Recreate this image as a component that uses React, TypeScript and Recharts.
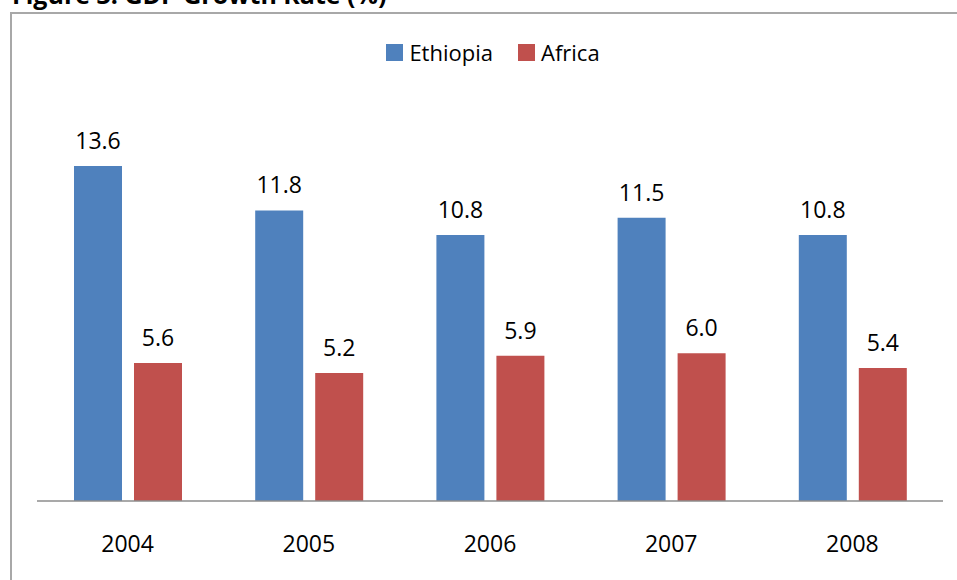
import React from "react";
import { BarChart, Bar, XAxis, YAxis, LabelList } from "recharts";

const years = ["2004", "2005", "2006", "2007", "2008"];
const ethiopia = [13.6, 11.8, 10.8, 11.5, 10.8];
const africa = [5.6, 5.2, 5.9, 6.0, 5.4];
const seriesNames = ["Ethiopia", "Africa"];
const seriesColors = ["#4f81bd", "#c0504d"];
const titleText = "Figure 3: GDP Growth Rate (%)";

const data = years.map((y, i) => ({ year: y, Ethiopia: ethiopia[i], Africa: africa[i] }));

const FONT = "'Open Sans', sans-serif";

const LegendBlock = () => (
  <div style={{ position: "absolute", left: 0, top: 37, width: 986, display: "flex", justifyContent: "center", alignItems: "center", fontFamily: FONT, fontSize: 22, color: "#000", lineHeight: "30px" }}>
    {seriesNames.map((n, i) => (
      <div key={n} style={{ display: "flex", alignItems: "center", marginRight: i === 0 ? 25 : 0 }}>
        <div style={{ width: 17, height: 17, background: seriesColors[i], marginRight: 6 }} />
        <span>{n}</span>
      </div>
    ))}
  </div>
);

export default function App() {
  return (
    <div style={{ position: "fixed", left: 0, top: 0, width: 957, height: 580, overflow: "hidden", background: "#fff" }}>
      <div style={{ position: "absolute", left: 12, top: -23, fontFamily: FONT, fontWeight: 700, fontSize: 25, color: "#000", whiteSpace: "nowrap" }}>
        {titleText}
      </div>
      <div style={{ position: "absolute", left: 10, top: 12, width: 1000, height: 700, border: "2.5px solid #a8a8a8", boxSizing: "border-box" }} />
      <LegendBlock />
      <div style={{ position: "absolute", left: 0, top: 0 }}>
        <BarChart
          width={957}
          height={580}
          data={data}
          margin={{ top: 107, right: 14, bottom: 0, left: 37 }}
          barGap={12}
        >
          <YAxis hide domain={[0, 16]} />
          <XAxis
            dataKey="year"
            height={79}
            tickLine={false}
            tickMargin={29}
            axisLine={{ stroke: "#8c8c8c", strokeWidth: 1.5 }}
            tick={{ fill: "#000", fontFamily: FONT, fontSize: 23 }}
          />
          <Bar dataKey="Ethiopia" fill={seriesColors[0]} barSize={48} isAnimationActive={false}>
            <LabelList dataKey="Ethiopia" position="top" offset={17} formatter={(v: number) => v.toFixed(1)} style={{ fill: "#000", fontFamily: FONT, fontSize: 23 }} />
          </Bar>
          <Bar dataKey="Africa" fill={seriesColors[1]} barSize={48} isAnimationActive={false}>
            <LabelList dataKey="Africa" position="top" offset={17} formatter={(v: number) => v.toFixed(1)} style={{ fill: "#000", fontFamily: FONT, fontSize: 23 }} />
          </Bar>
        </BarChart>
      </div>
    </div>
  );
}
